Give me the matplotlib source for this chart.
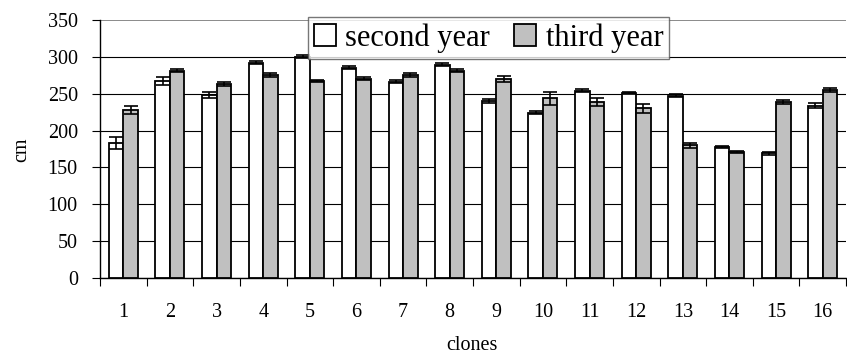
import numpy as np
import matplotlib.pyplot as plt

clones = [str(i) for i in range(1, 17)]
second_year = [183, 267, 248, 292, 300, 285, 266, 289, 240, 224, 254, 251, 247, 178, 169, 234]
second_err = [8, 5, 4, 2, 2, 2, 2, 2, 3, 2, 2, 2, 2, 1, 2, 4]
third_year = [228, 281, 263, 275, 267, 270, 275, 281, 270, 244, 239, 230, 180, 171, 239, 255]
third_err = [6, 2, 3, 3, 1, 2, 3, 2, 4, 9, 5, 6, 3, 1, 3, 3]

plt.rcParams['font.family'] = ['Liberation Serif', 'DejaVu Serif']

fig = plt.figure(figsize=(8.47, 3.6), dpi=100)
ax = fig.add_axes([100 / 847, 1 - 278 / 360, 746 / 847, 258 / 360])

x = np.arange(len(clones))
w = 0.31
ekw = dict(elinewidth=1.2, capthick=1.2, ecolor='black')
ax.bar(x - w / 2, second_year, w, color='white', edgecolor='black', linewidth=1.3,
       yerr=second_err, capsize=5, error_kw=ekw, label='second year', zorder=3)
ax.bar(x + w / 2, third_year, w, color='#c0c0c0', edgecolor='black', linewidth=1.3,
       yerr=third_err, capsize=5, error_kw=ekw, label='third year', zorder=3)

ax.set_xlim(-0.5, len(clones) - 0.5)
ax.set_ylim(0, 350)
ax.set_yticks(range(0, 351, 50))
ax.yaxis.grid(True, color='black', linewidth=0.8, zorder=0)
ax.set_axisbelow(True)
# top border is a grey line in the original
ax.get_ygridlines()[-1].set_color('#777777')
ax.get_ygridlines()[-1].set_linewidth(1.2)

ax.set_xticks(np.arange(-0.5, len(clones), 1.0))
ax.set_xticklabels([])
ax.set_xticks(x, minor=True)
ax.set_xticklabels(clones, minor=True)
ax.tick_params(axis='x', which='major', length=6, width=0.8, direction='out')
ax.tick_params(axis='x', which='minor', length=0, pad=18, labelsize=14.5)
ax.tick_params(axis='y', length=6, width=0.8, direction='out', labelsize=14.5, pad=10)

for s in ['top', 'right']:
    ax.spines[s].set_visible(False)
ax.spines['left'].set_linewidth(1.0)
ax.spines['bottom'].set_linewidth(1.0)

fig.text(22 / 847, 1 - 150 / 360, 'cm', rotation=90, fontsize=14.5, ha='center', va='center')
fig.text(472 / 847, 1 - 346 / 360, 'clones', fontsize=14.5, ha='center', va='center')

leg = ax.legend(loc='upper center', bbox_to_anchor=(0.521, 1.012), ncol=2, fontsize=22,
                frameon=True, fancybox=False, edgecolor='#555555', handlelength=0.72,
                handleheight=0.72, handletextpad=0.3, columnspacing=0.8, borderpad=0.2,
                borderaxespad=0)
leg.get_frame().set_linewidth(1.0)
leg.set_zorder(5)

fig.savefig('out.png', dpi=100)
